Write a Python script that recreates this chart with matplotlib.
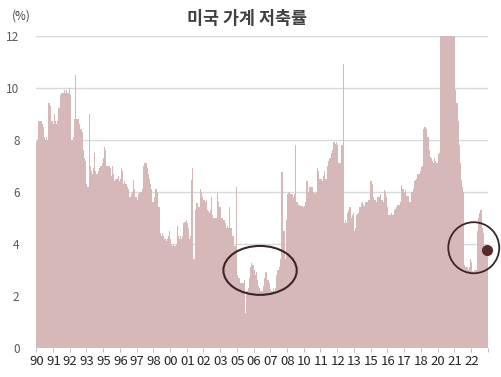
import matplotlib
matplotlib.use("Agg")
import matplotlib.pyplot as plt
from matplotlib.patches import Ellipse

plt.rcParams['font.family'] = ['Noto Sans CJK KR', 'DejaVu Sans']

# 미국 개인 저축률 (%), 월별, 1990.01 ~ 2023.09
rate_1990s = [
    7.9, 8.0, 8.7, 8.7, 8.7, 8.6, 8.5, 8.1, 8.0, 8.1, 8.0, 9.4,     # 1990
    9.3, 8.7, 8.7, 8.6, 9.0, 8.7, 8.6, 8.7, 9.2, 9.7, 9.8, 9.8,     # 1991
    9.8, 9.9, 9.8, 9.9, 9.8, 10.0, 9.7, 8.0, 8.0, 8.1, 8.8, 10.5,   # 1992
    8.8, 8.8, 8.6, 8.4, 8.4, 8.3, 7.6, 7.3, 7.2, 6.3, 6.2, 9.0,     # 1993
    7.0, 6.8, 6.7, 6.9, 7.5, 6.8, 6.7, 6.8, 6.9, 7.0, 7.0, 7.1,     # 1994
    7.3, 7.7, 7.6, 7.0, 7.0, 7.0, 6.9, 6.6, 7.0, 6.7, 6.4, 6.5,     # 1995
    6.5, 6.6, 6.4, 6.5, 6.9, 6.8, 6.3, 6.4, 6.3, 6.2, 6.1, 5.8,     # 1996
    5.8, 5.9, 6.0, 6.45, 6.1, 5.8, 5.7, 5.9, 6.0, 6.0, 6.0, 6.1,    # 1997
    7.0, 7.1, 7.1, 6.9, 6.7, 6.5, 6.3, 6.1, 5.6, 5.6, 5.8, 6.1,     # 1998
    6.0, 5.4, 5.4, 4.4, 4.3, 4.4, 4.3, 4.2, 4.1, 4.2, 4.3, 4.5,     # 1999
]
rate_2000s = [
    4.2, 4.0, 3.9, 4.0, 3.9, 4.0, 4.7, 4.3, 4.2, 4.3, 4.2, 4.3,     # 2000
    4.8, 4.85, 4.9, 4.8, 4.6, 4.2, 4.3, 6.45, 6.9, 3.4, 5.3, 5.55,  # 2001
    5.55, 5.4, 5.4, 6.1, 6.0, 5.8, 5.7, 5.6, 5.7, 5.3, 5.25, 5.2,   # 2002
    5.3, 5.8, 5.1, 5.0, 5.0, 5.0, 5.95, 5.6, 5.4, 5.4, 5.0, 5.0,    # 2003
    4.9, 4.8, 4.6, 4.7, 4.6, 5.4, 4.6, 4.6, 4.3, 3.9, 3.9, 6.2,     # 2004
    2.8, 2.7, 2.7, 2.5, 2.5, 2.5, 2.6, 1.35, 2.2, 2.2, 2.3, 2.7,    # 2005
    3.1, 3.27, 3.2, 3.0, 2.8, 2.9, 2.6, 2.4, 2.3, 2.2, 2.2, 2.4,    # 2006
    2.7, 2.9, 2.9, 2.6, 2.6, 2.5, 2.25, 2.2, 2.3, 2.2, 2.3, 2.8,    # 2007
    3.0, 3.0, 3.1, 3.4, 6.77, 4.5, 4.5, 3.4, 4.9, 5.9, 5.95, 6.0,   # 2008
    5.9, 5.9, 5.8, 5.9, 7.8, 5.6, 5.6, 5.5, 5.5, 5.45, 5.45, 5.4,   # 2009
]
rate_2010s = [
    5.45, 5.6, 6.4, 6.4, 6.0, 6.2, 6.2, 6.2, 6.0, 5.95, 5.9, 6.0,   # 2010
    6.9, 6.8, 6.5, 6.5, 6.4, 6.6, 6.8, 6.5, 6.5, 7.0, 7.2, 7.3,     # 2011
    7.5, 7.6, 7.9, 7.9, 7.85, 7.9, 7.8, 7.1, 7.1, 7.8, 7.8, 10.9,   # 2012
    4.8, 4.9, 4.8, 5.2, 5.3, 5.4, 5.0, 5.1, 5.2, 4.5, 4.6, 5.1,     # 2013
    5.15, 5.2, 5.4, 5.55, 5.6, 5.5, 5.45, 5.6, 5.6, 5.6, 5.7, 6.4,  # 2014
    6.4, 6.3, 5.8, 5.7, 5.7, 5.6, 5.8, 5.8, 5.9, 5.7, 5.7, 5.6,     # 2015
    6.07, 6.0, 5.8, 5.4, 5.1, 5.1, 5.2, 5.1, 5.1, 5.3, 5.35, 5.4,   # 2016
    5.5, 5.5, 5.6, 6.27, 6.1, 6.1, 6.0, 6.07, 5.85, 5.85, 5.6, 5.6, # 2017
    6.0, 6.0, 6.1, 6.4, 6.45, 6.5, 6.7, 6.7, 6.8, 6.96, 7.0, 8.4,   # 2018
    8.5, 8.5, 8.4, 8.1, 7.6, 7.35, 7.3, 7.2, 7.1, 7.3, 7.2, 7.1,    # 2019
]
rate_2020s = [
    7.45, 7.5, 12.8, 33.8, 24.9, 19.2, 19.0, 14.6, 14.3, 13.5, 12.9, 13.3,  # 2020
    19.9, 13.6, 26.6, 12.7, 9.9, 9.4, 8.7, 7.8, 7.1, 6.45, 6.2, 6.0,       # 2021
    3.2, 3.1, 3.1, 3.0, 3.1, 3.4, 3.3, 2.95, 2.9, 3.0, 3.0, 4.5,           # 2022
    5.0, 5.2, 5.3, 5.3, 4.6, 4.4, 3.9, 3.8, 3.76,                          # 2023
]
savings_rate = rate_1990s + rate_2000s + rate_2010s + rate_2020s
start_year = 1990
label_every = 15  # 15개월 간격 라벨

months = list(range(len(savings_rate)))
tick_pos = months[::label_every]
tick_labels = [f"{(start_year + m // 12) % 100:02d}" for m in tick_pos]

bar_color = '#D5B8B7'
mark_color = '#3E2424'

fig = plt.figure(figsize=(5.02, 3.77), dpi=100)
ax = fig.add_axes([36.2 / 502, 29 / 377, 451.5 / 502, 312.5 / 377])

ax.bar(months, savings_rate, width=1.0, color=bar_color, linewidth=0, zorder=2)

ax.set_xlim(-0.5, len(savings_rate) - 0.5)
ax.set_ylim(0, 12)
ax.set_yticks(range(0, 13, 2))
ax.yaxis.grid(True, color='#D9D9D9', linewidth=1.0, zorder=0)
ax.set_axisbelow(True)

ax.set_xticks(tick_pos)
ax.set_xticklabels(tick_labels)
ax.set_xticks([p - 0.5 for p in tick_pos] + [len(savings_rate) - 0.5], minor=True)
ax.tick_params(axis='x', which='major', length=0, pad=5, labelsize=9.5, colors='#262626')
ax.tick_params(axis='x', which='minor', length=3, width=0.8, color='#BFBFBF')
ax.tick_params(axis='y', length=0, pad=12, labelsize=8.5, labelcolor='#595959')
for lbl in ax.get_yticklabels():
    lbl.set_horizontalalignment('right')

for s in ax.spines.values():
    s.set_visible(False)

# 강조 표시: 2005~07년, 최근
ax.add_patch(Ellipse((200.3, 2.98), 65.8, 1.88, fill=False, edgecolor=mark_color,
                     linewidth=1.5, zorder=4, clip_on=False))
ax.add_patch(Ellipse((392.0, 3.85), 45.7, 1.96, fill=False, edgecolor=mark_color,
                     linewidth=1.3, zorder=4, clip_on=False))
ax.plot(months[-1], savings_rate[-1], 'o', color='#5A2A2A', markersize=7, zorder=5,
        clip_on=False)

fig.text(247 / 502, 1 - 19 / 377, '미국 가계 저축률', ha='center', va='center',
         fontsize=12.5, fontweight='bold', color='#404040')
fig.text(12 / 502, 1 - 16 / 377, '(%)', ha='left', va='center', fontsize=8.5,
         color='#404040')

fig.savefig('out.png', dpi=100)
